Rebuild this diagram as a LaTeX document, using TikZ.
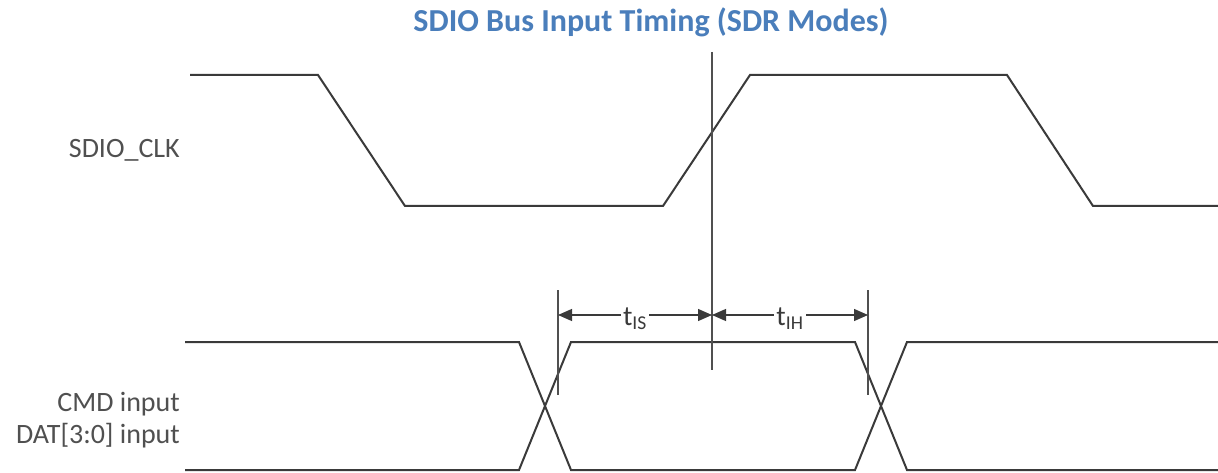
\documentclass[tikz,border=0pt]{standalone}
\usepackage{fontspec}
\setmainfont{Carlito}
\usetikzlibrary{arrows.meta}
\definecolor{ink}{HTML}{3A3A3A}
\definecolor{muted}{HTML}{505050}
\definecolor{heading}{HTML}{4A7EBB}
\tikzset{
  every node/.style={inner sep=0pt,text=ink},
  title/.style={font=\bfseries\fontsize{32}{38}\selectfont,text=heading},
  signame/.style={font=\fontsize{28}{32}\selectfont,anchor=east,align=right,text=muted},
  wave/.style={draw=ink,line width=2pt},
  guide/.style={draw=muted,line width=1.3pt},
  span/.style={{Triangle[length=14pt,width=12pt]}-{Triangle[length=14pt,width=12pt]},draw=ink,line width=1.2pt},
  timing/.style={font=\fontsize{28}{32}\selectfont,fill=white,inner xsep=2pt,yshift=-4pt},
}

\begin{document}
\begin{tikzpicture}[x=1pt,y=-1pt]
\path[use as bounding box] (0,0) rectangle (1218,473);
\fill[white] (0,0) rectangle (1218,473);
\node[title] (head) at (651,22) {SDIO Bus Input Timing (SDR Modes)};
% signal names
\node[signame] (clkname) at (180,150) {SDIO\_CLK};
\node[signame] (datname) at (180,420) {CMD input\\DAT[3:0] input};
% clock
\draw[wave] (190,75) -- (318,75) -- (405,206) -- (663,206) -- (750,75)
  -- (1007,75) -- (1093,206) -- (1218,206);
% data, both rails
\foreach \hi/\lo in {342/470,470/342}
  \draw[wave] (185,\hi) -- (519,\hi) -- (571,\lo) -- (855,\lo) -- (907,\hi) -- (1218,\hi);
% guides
\coordinate (edge) at (712,52);
\coordinate (edgelow) at (712,370);
\coordinate (setup) at (558,290);
\coordinate (setuplow) at (558,395);
\coordinate (hold) at (868,290);
\coordinate (holdlow) at (868,395);
\draw[guide] (edge) -- (edgelow);
\draw[guide] (setup) -- (setuplow);
\draw[guide] (hold) -- (holdlow);
\coordinate (isl) at (558,315);
\coordinate (mid) at (712,315);
\coordinate (ihr) at (868,315);
\draw[span] (isl) -- (mid) node[timing,midway] (tis) {t\textsubscript{IS}};
\draw[span] (mid) -- (ihr) node[timing,midway] (tih) {t\textsubscript{IH}};
\end{tikzpicture}
\end{document}
